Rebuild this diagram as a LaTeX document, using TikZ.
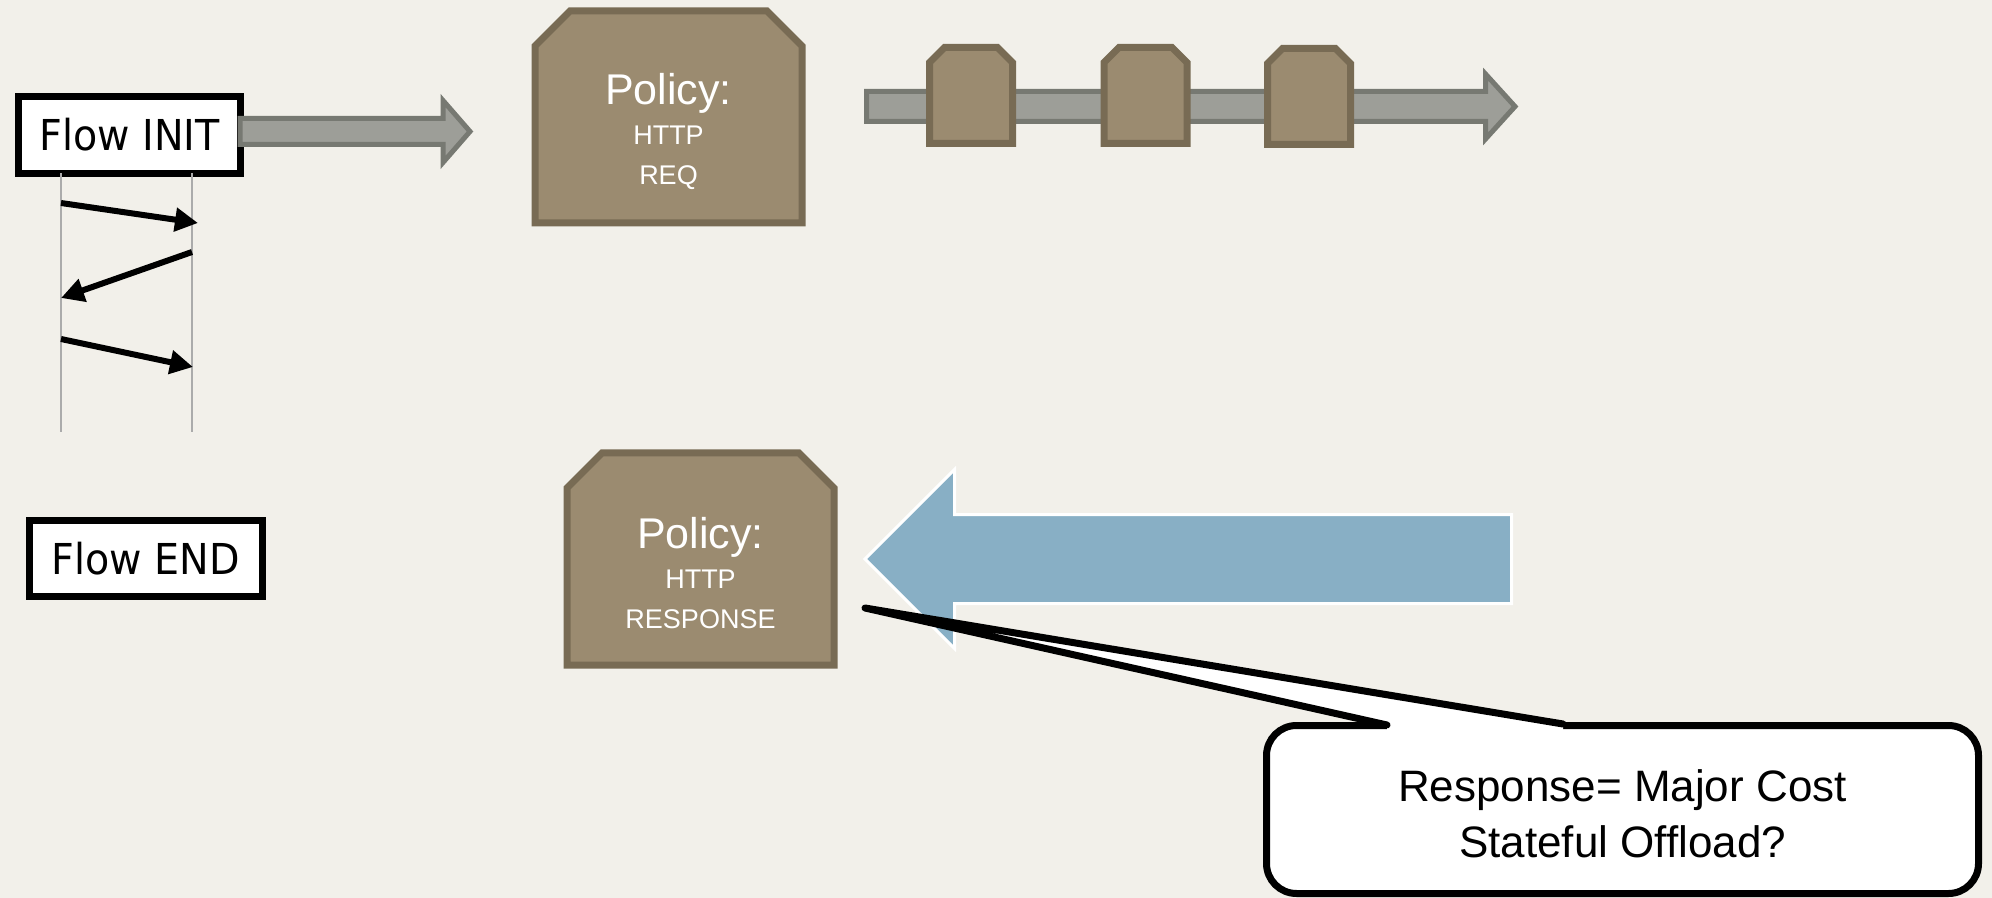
\documentclass[tikz,border=0pt]{standalone}
\usepackage{fontspec}
\usetikzlibrary{arrows.meta}
\setmainfont{Liberation Sans}
\newfontfamily\flowfont[FakeStretch=0.93]{DejaVu Sans}
\definecolor{slidebg}{HTML}{F2F0EA}
\definecolor{policyfill}{HTML}{9B8B70}
\definecolor{policyline}{HTML}{786B54}
\definecolor{pipefill}{HTML}{9D9E98}
\definecolor{pipeline}{HTML}{777972}
\definecolor{replyblue}{HTML}{88AFC5}
\definecolor{lifegray}{HTML}{ABABAB}

\tikzset{
  flowbox/.style={draw,line width=3.3pt,fill=white,inner sep=0pt,
    font=\flowfont\fontsize{21.3}{24}\selectfont},
  policy/.style={inner sep=0pt,outer sep=0pt,minimum width=133.5pt,minimum height=106pt},
  packet/.style={policy,minimum width=41.5pt,minimum height=48pt},
  policyshape/.style={draw=policyline,fill=policyfill,line width=3.5pt},
  policytext/.style={text=white,align=center,inner sep=0pt,font=\fontsize{13.5}{20}\selectfont},
  pipe/.style={draw=pipeline,fill=pipefill,line width=2.5pt},
  msg/.style={line width=3pt,-{Triangle[length=11.5pt,width=11.5pt]}},
  lifeline/.style={draw=lifegray,line width=0.75pt}
}

%outline of a box with its two top corners cut off
\newcommand{\chamfer}[2]{%
  \filldraw[policyshape] (#1.south west) -- ([yshift=-#2]#1.north west)
    -- ([xshift=#2]#1.north west) -- ([xshift=-#2]#1.north east)
    -- ([yshift=-#2]#1.north east) -- (#1.south east) -- cycle;}

\begin{document}
\begin{tikzpicture}[x=0.5pt,y=-0.5pt]
  \useasboundingbox (0,0) rectangle (1992,898);
  \fill[slidebg] (0,0) rectangle (1992,898);

  %flow start and end
  \node[flowbox,minimum width=111pt,minimum height=38.5pt] (flowinit) at (129.5,135) {Flow INIT};
  \node[flowbox,minimum width=116.5pt,minimum height=38pt] (flowend) at (146,558.5) {Flow END};

  %request pipe out of flow init
  \filldraw[pipe] (240,118.5) -- (443,118.5) -- (443,100.5) -- (470,131.5)
    -- (443,162.5) -- (443,144.5) -- (240,144.5) -- cycle;

  %lifelines and handshake
  \draw[lifeline] (61,173) -- (61,432);
  \draw[lifeline] (192,173) -- (192,432);
  \coordinate (c1) at (61,203);
  \coordinate (s1) at (198,223);
  \coordinate (s2) at (192,252);
  \coordinate (c2) at (61,298);
  \coordinate (c3) at (61,339);
  \coordinate (s3) at (193,367);
  \draw[msg] (c1) -- (s1);
  \draw[msg] (s2) -- (c2);
  \draw[msg] (c3) -- (s3);

  %request policy
  \node[policy] (policyreq) at (668.5,117) {};
  \chamfer{policyreq}{17.5pt}
  \node[policytext] (reqtext) at (668.5,131) {{\fontsize{21.5}{20}\selectfont Policy:}\\HTTP\\REQ};

  %packets on the pipe
  \filldraw[pipe] (866.5,91.5) -- (1485.5,91.5) -- (1485.5,74) -- (1515,106.5)
    -- (1485.5,139) -- (1485.5,121.5) -- (866.5,121.5) -- cycle;
  \node[packet] (pkta) at (971,95.5) {};
  \node[packet] (pktb) at (1145.5,95.5) {};
  \node[packet] (pktc) at (1309,96.5) {};
  \foreach \p in {pkta,pktb,pktc} {
    \chamfer{\p}{7.5pt}
  }

  %response policy
  \node[policy] (policyresp) at (700.5,559) {};
  \chamfer{policyresp}{17.5pt}
  \node[policytext] (resptext) at (700.5,573) {{\fontsize{21.5}{20}\selectfont Policy:}\\HTTP\\RESPONSE};

  %response coming back
  \filldraw[draw=white,fill=replyblue,line width=1.5pt] (1511.5,514.5) -- (954.5,514.5)
    -- (954.5,469.5) -- (865,559) -- (954.5,648.5) -- (954.5,603.5) -- (1511.5,603.5) -- cycle;

  %callout
  \node[draw,fill=white,line width=3.5pt,rounded corners=15pt,minimum width=356pt,
    minimum height=84pt] (callout) at (1622.5,809.5) {};
  \node[align=center,inner sep=0pt,font=\fontsize{22}{28}\selectfont] (callouttext)
    at (1622.5,814) {Response= Major Cost\\Stateful Offload?};
  \coordinate (tip) at (865,608);
  \coordinate (b1) at (1387,725);
  \coordinate (b2) at (1563,724);
  \fill[white] (tip) -- (b1) -- ([yshift=-4pt]b1) -- ([yshift=-4pt]b2) -- (b2) -- cycle;
  \draw[line width=3.5pt,line cap=round,line join=round] (b1) -- (tip) -- (b2);
\end{tikzpicture}
\end{document}
